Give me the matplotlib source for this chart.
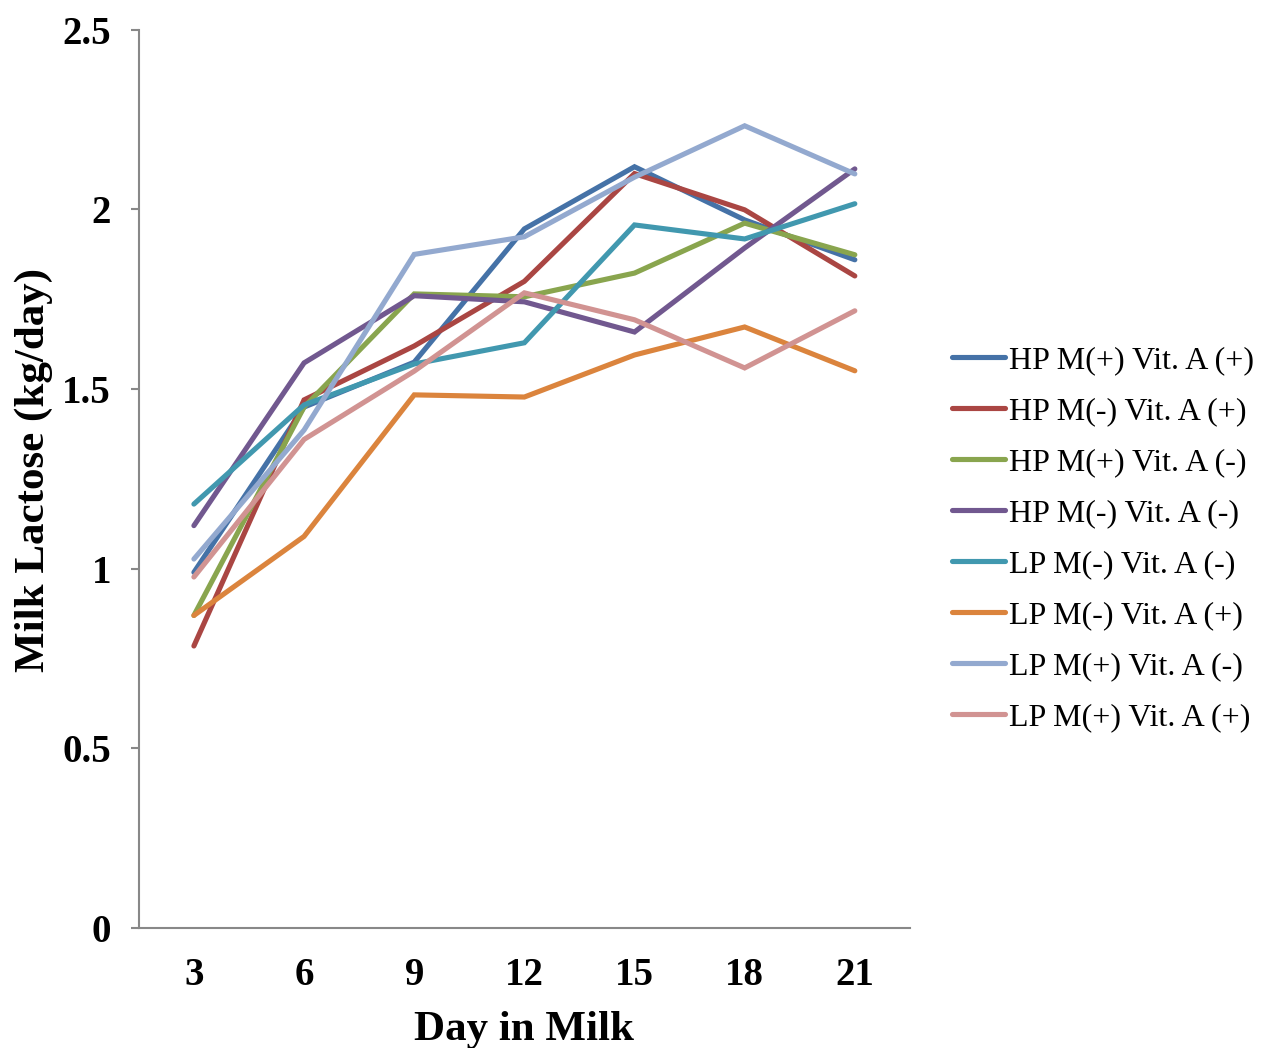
import matplotlib
matplotlib.use('Agg')
import matplotlib.pyplot as plt

days = ['3', '6', '9', '12', '15', '18', '21']

labels = ['HP M(+) Vit. A (+)', 'HP M(-) Vit. A (+)', 'HP M(+) Vit. A (-)',
          'HP M(-) Vit. A (-)', 'LP M(-) Vit. A (-)', 'LP M(-) Vit. A (+)',
          'LP M(+) Vit. A (-)', 'LP M(+) Vit. A (+)']

hp_mp_ap = [0.99, 1.45, 1.575, 1.946, 2.119, 1.971, 1.86]
hp_mm_ap = [0.785, 1.47, 1.62, 1.80, 2.10, 1.999, 1.815]
hp_mp_am = [0.87, 1.45, 1.765, 1.757, 1.823, 1.962, 1.874]
hp_mm_am = [1.12, 1.573, 1.76, 1.743, 1.659, 1.893, 2.113]
lp_mm_am = [1.18, 1.456, 1.57, 1.629, 1.957, 1.918, 2.016]
lp_mm_ap = [0.87, 1.09, 1.484, 1.478, 1.595, 1.673, 1.551]
lp_mp_am = [1.027, 1.386, 1.875, 1.924, 2.09, 2.233, 2.099]
lp_mp_ap = [0.977, 1.36, 1.55, 1.768, 1.693, 1.559, 1.718]

series = [hp_mp_ap, hp_mm_ap, hp_mp_am, hp_mm_am, lp_mm_am, lp_mm_ap, lp_mp_am, lp_mp_ap]
colors = ['#4572A7', '#AA4643', '#89A54E', '#71588F', '#4198AF', '#DB843D', '#93A9CF', '#D19392']

plt.rcParams['font.family'] = ['Liberation Serif', 'DejaVu Serif']

fig = plt.figure(figsize=(12.62, 10.48), dpi=100)
ax = fig.add_axes([0.110, 0.1145, 0.611, 0.857])

x = range(len(days))
for vals, lab, col in zip(series, labels, colors):
    ax.plot(x, vals, color=col, lw=3.7, label=lab, solid_capstyle='round', solid_joinstyle='miter')

ax.set_xlim(-0.5, 6.5)
ax.set_ylim(0, 2.5)
ax.set_xticks(list(x))
ax.set_xticklabels(days)
ax.set_yticks([0, 0.5, 1, 1.5, 2, 2.5])
ax.set_yticklabels(['0', '0.5', '1', '1.5', '2', '2.5'])

for s in ['top', 'right']:
    ax.spines[s].set_visible(False)
for s in ['left', 'bottom']:
    ax.spines[s].set_color('#888888')
    ax.spines[s].set_linewidth(1.5)

ax.tick_params(axis='y', direction='out', length=6, width=1.5, color='#888888', pad=14, labelsize=28)
ax.tick_params(axis='x', length=0, pad=21, labelsize=28)
for t in ax.get_xticklabels() + ax.get_yticklabels():
    t.set_fontweight('bold')

ax.set_xlabel('Day in Milk', fontsize=31, fontweight='bold', labelpad=12)
ax.set_ylabel('Milk Lactose (kg/day)', fontsize=31, fontweight='bold', labelpad=7)
ax.yaxis.label.set_y(0.51)

ax.legend(loc='center left', bbox_to_anchor=(1.038, 0.433), frameon=False, fontsize=23,
          handlelength=1.65, handletextpad=0.15, labelspacing=0.68, borderaxespad=0)

fig.savefig('out.png', dpi=100)
